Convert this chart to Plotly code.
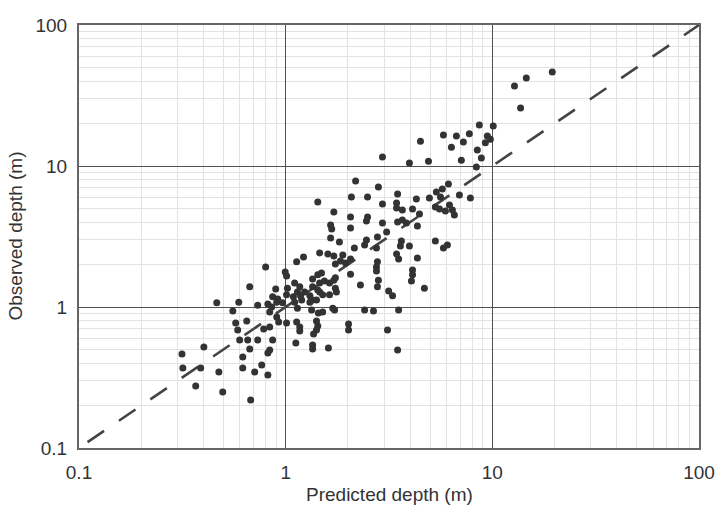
import plotly.graph_objects as go

# Predicted depth (m) and observed depth (m)
predicted = [
    19.5, 14.6, 12.8, 13.7, 8.65, 10.1, 9.46, 9.78, 9.25, 8.46, 8.85, 8.37,
    4.49, 5.80, 6.70, 7.74, 6.34, 7.24, 7.08, 4.91, 3.97, 2.94, 6.13, 5.73,
    5.36, 5.61, 6.93, 7.83, 4.29, 4.96, 3.48,
    3.44, 3.44, 3.67, 4.11, 5.30, 5.55, 6.20, 5.93, 6.41, 6.55, 4.44, 3.48,
    3.67, 3.84, 4.34, 3.63, 3.59, 3.97, 5.30, 5.80, 6.06, 3.44, 3.52, 4.34,
    4.11, 4.11, 4.06, 4.69, 3.15, 3.29,
    2.18, 2.81, 1.43, 2.08, 2.49, 2.94, 1.71, 2.06, 2.49, 2.46, 2.94, 1.65,
    1.67, 2.06, 3.08, 2.78, 1.65, 1.82, 2.46, 2.41, 2.75, 2.15, 1.46, 1.60,
    1.71, 1.89, 1.22, 1.74, 1.84, 1.95, 1.13, 2.78, 2.75, 2.75, 2.06, 2.81,
    2.30, 2.78, 2.06,
    0.80, 0.995, 1.01, 1.35, 1.43, 1.49, 1.46, 1.54, 1.63, 1.71, 1.74, 1.74,
    1.76, 1.35, 1.43, 1.17, 1.14, 1.105, 1.02, 0.895, 1.235, 1.31, 1.46, 1.35,
    1.41, 1.51, 1.63, 1.18, 1.09, 1.01, 0.915, 0.967, 0.865, 0.905, 0.856, 0.82,
    1.105, 1.195, 1.14, 1.31, 1.335, 1.51, 1.69, 1.725, 2.41, 2.66, 3.52, 1.44,
    0.925, 1.01, 1.13, 1.17, 1.17, 1.41, 1.43, 1.41, 1.365, 2.015, 2.015, 3.11,
    0.865, 1.12, 1.35, 1.35, 1.61, 0.837, 3.48, 0.837, 0.905,
    0.67, 0.464, 0.593, 0.732, 0.555, 0.573, 0.586, 0.648, 0.783, 0.837, 0.599,
    0.655, 0.732, 0.67, 0.62, 0.82, 0.402, 0.315, 0.318, 0.388, 0.475, 0.62,
    0.708, 0.766, 0.82, 0.367, 0.496, 0.677,
]
observed = [
    46.4, 42.1, 36.9, 25.8, 19.5, 19.2, 16.3, 15.5, 14.6, 13.0, 11.4, 9.84,
    15.0, 16.6, 16.3, 16.9, 13.6, 14.8, 11.0, 10.8, 10.5, 11.6, 7.45, 6.87,
    6.54, 6.03, 6.23, 5.93, 5.83, 5.93, 6.33,
    5.46, 5.04, 4.88, 4.96, 5.12, 4.96, 5.29, 4.80, 4.88, 4.49, 4.57, 4.01,
    4.14, 3.94, 3.75, 2.94, 2.71, 2.71, 2.94, 2.62, 2.75, 2.38, 2.19, 2.23,
    1.83, 1.69, 1.53, 1.36, 1.30, 1.20,
    7.83, 7.10, 5.55, 6.03, 6.03, 5.38, 4.72, 4.35, 4.35, 4.07, 3.94, 3.82,
    3.57, 3.63, 3.40, 3.14, 3.09, 2.89, 2.99, 2.75, 2.62, 2.62, 2.42, 2.38,
    2.30, 2.34, 2.26, 2.02, 2.12, 2.05, 2.09, 2.09, 1.92, 1.80, 1.71, 1.55,
    1.43, 1.39, 2.19,
    1.92, 1.77, 1.66, 1.58, 1.69, 1.74, 1.48, 1.53, 1.48, 1.55, 1.61, 1.36,
    1.28, 1.39, 1.32, 1.39, 1.28, 1.48, 1.36, 1.34, 1.28, 1.20, 1.28, 1.12,
    1.12, 1.22, 1.22, 1.20, 1.18, 1.22, 1.14, 1.07, 1.18, 1.08, 1.0, 1.05,
    1.08, 1.12, 0.98, 1.08, 0.952, 0.922, 0.98, 0.952, 0.952, 0.937, 0.952, 0.906,
    0.783, 0.770, 0.783, 0.721, 0.676, 0.796, 0.733, 0.687, 0.643, 0.758, 0.687, 0.687,
    0.583, 0.556, 0.538, 0.504, 0.512, 0.496, 0.496, 0.922, 0.849,
    1.39, 1.07, 1.08, 1.03, 0.937, 0.770, 0.687, 0.796, 0.698, 0.721, 0.583,
    0.583, 0.583, 0.504, 0.442, 0.472, 0.520, 0.464, 0.369, 0.369, 0.346, 0.369,
    0.346, 0.388, 0.330, 0.275, 0.250, 0.219,
]

# 1:1 reference line
line_x = [0.11, 100]
line_y = [0.11, 100]

tick_vals = [0.1, 1, 10, 100]
tick_labels = ["0.1", "1", "10", "100"]
minor_vals = [m * d for d in (0.1, 1, 10) for m in range(2, 10)]

x_title = "Predicted depth (m)"
y_title = "Observed depth (m)"

FONT = "Liberation Sans, Arial, sans-serif"
TXT = "#333333"

fig = go.Figure()
fig.add_trace(go.Scatter(
    x=line_x, y=line_y, mode="lines",
    line=dict(color="#444444", width=2.6, dash="20px,18px"),
    hoverinfo="skip", showlegend=False,
))
fig.add_trace(go.Scatter(
    x=predicted, y=observed, mode="markers",
    marker=dict(size=7, color="#333333", line=dict(width=0)),
    showlegend=False,
))

axis_common = dict(
    type="log", range=[-1, 2],
    tickvals=tick_vals, ticktext=tick_labels,
    showgrid=True, gridcolor="#505050", gridwidth=1,
    minor=dict(tickvals=minor_vals, showgrid=True, gridcolor="#e2e2e2", gridwidth=1, ticks=""),
    showline=True, mirror=True, linecolor="#666666", linewidth=2,
    ticks="", tickfont=dict(family=FONT, size=19, color=TXT),
    zeroline=False, automargin=False,
)

fig.update_layout(
    width=721, height=510,
    margin=dict(l=79, r=22, t=25, b=62),
    paper_bgcolor="white", plot_bgcolor="white",
    xaxis=dict(axis_common, ticklabelstandoff=6),
    yaxis=dict(axis_common, ticklabelstandoff=6),
    annotations=[
        dict(text=x_title, xref="paper", yref="paper", x=0.5, y=0, yshift=-46,
             xanchor="center", yanchor="middle", showarrow=False,
             font=dict(family=FONT, size=19, color=TXT)),
        dict(text=y_title, xref="paper", yref="paper", x=0, y=0.5, xshift=-64,
             xanchor="center", yanchor="middle", textangle=-90, showarrow=False,
             font=dict(family=FONT, size=19, color=TXT)),
    ],
)

fig.write_html("out.html")
